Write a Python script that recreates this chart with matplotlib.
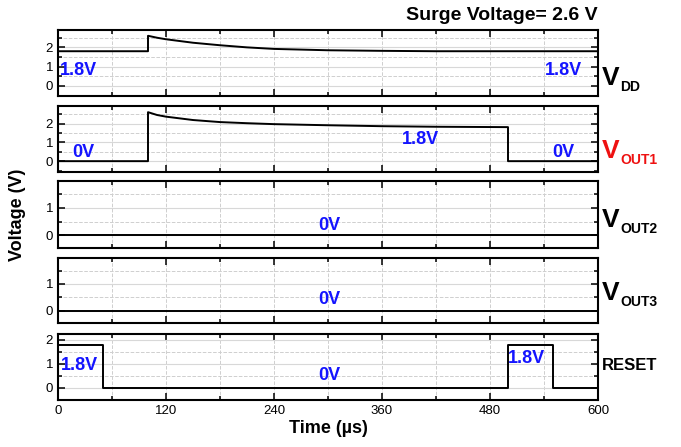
import matplotlib.pyplot as plt
from matplotlib.ticker import MultipleLocator

plt.rcParams['font.family'] = ['Liberation Sans', 'DejaVu Sans']
NARROW = ['Liberation Sans Narrow', 'Liberation Sans', 'DejaVu Sans']

# --- data ---
t_vdd = [0, 100, 100, 110, 120, 150, 180, 210, 240, 300, 360, 420, 600]
v_vdd = [1.8, 1.8, 2.6, 2.5, 2.42, 2.24, 2.11, 2.0, 1.92, 1.85, 1.82, 1.8, 1.8]

t_out1 = [0, 100, 100, 110, 120, 150, 180, 210, 240, 300, 360, 420, 500, 500, 600]
v_out1 = [0, 0, 2.62, 2.47, 2.38, 2.2, 2.09, 2.03, 1.98, 1.92, 1.87, 1.84, 1.82, 0, 0]

t_out2 = [0, 600]
v_out2 = [0, 0]

t_out3 = [0, 600]
v_out3 = [0, 0]

t_reset = [0, 50, 50, 500, 500, 550, 550, 600]
v_reset = [1.8, 1.8, 0, 0, 1.8, 1.8, 0, 0]

x_ticks = [0, 120, 240, 360, 480, 600]

# panel extents in pixels (top, bottom) and y limits
panels = [
    (t_vdd, v_vdd, (30, 96), (-0.52, 2.9), [0, 1, 2]),
    (t_out1, v_out1, (106, 172), (-0.58, 2.95), [0, 1, 2]),
    (t_out2, v_out2, (181, 248), (-0.46, 1.97), [0, 1]),
    (t_out3, v_out3, (258, 323), (-0.46, 1.97), [0, 1]),
    (t_reset, v_reset, (334, 400), (-0.5, 2.25), [0, 1, 2]),
]

# blue value labels: (panel, time, voltage, text)
notes = [
    (0, 23, 0.8, '1.8V'), (0, 562, 0.8, '1.8V'),
    (1, 28, 0.45, '0V'), (1, 403, 1.15, '1.8V'), (1, 562, 0.45, '0V'),
    (2, 301, 0.37, '0V'),
    (3, 301, 0.4, '0V'),
    (4, 24, 0.95, '1.8V'), (4, 301, 0.5, '0V'), (4, 521, 1.22, '1.8V'),
]

W, H = 681, 447
fig = plt.figure(figsize=(W / 100, H / 100), dpi=100)
axes = []
for t, v, (top, bot), ylim, yt in panels:
    ax = fig.add_axes([58 / W, 1 - bot / H, 540 / W, (bot - top) / H])
    ax.plot(t, v, color='black', lw=1.4)
    ax.set_xlim(0, 600)
    ax.set_ylim(*ylim)
    ax.set_yticks(yt)
    ax.yaxis.set_minor_locator(MultipleLocator(0.5))
    ax.set_xticks(x_ticks)
    ax.xaxis.set_minor_locator(MultipleLocator(60))
    ax.tick_params(which='both', direction='in', top=True, right=True,
                   labelsize=9.5, width=1.1)
    ax.tick_params(which='major', length=5)
    ax.tick_params(which='minor', length=3)
    ax.grid(True, which='major', axis='y', color='#d8d8d8', lw=0.8)
    ax.grid(True, which='minor', axis='y', color='#cfcfcf', lw=0.7, ls='--')
    ax.grid(True, which='both', axis='x', color='#cfcfcf', lw=0.7, ls='--')
    ax.set_axisbelow(True)
    for s in ax.spines.values():
        s.set_linewidth(1.5)
    if len(axes) < 4:
        ax.tick_params(labelbottom=False)
    axes.append(ax)

for i, x, y, s in notes:
    axes[i].text(x, y, s, color='#1414ff', fontsize=13, fontweight='bold',
                 ha='center', va='center', family=NARROW)

# right-side signal names
names = [(0, 'V', 'DD', 'black', 78), (1, 'V', 'OUT1', '#ee1111', 151),
         (2, 'V', 'OUT2', 'black', 220), (3, 'V', 'OUT3', 'black', 293)]
for i, big, sub, c, yc in names:
    fig.text(602 / W, 1 - yc / H, big, color=c, fontsize=19, fontweight='bold',
             ha='left', va='center', family=NARROW)
    fig.text(620 / W, 1 - (yc + 9) / H, sub, color=c, fontsize=10,
             fontweight='bold', ha='left', va='center', family=NARROW)
fig.text(602 / W, 1 - 366 / H, 'RESET', color='black', fontsize=12,
         fontweight='bold', ha='left', va='center', family=NARROW)

fig.text(598 / W, 1 - 16 / H, 'Surge Voltage= 2.6 V', fontsize=14,
         fontweight='bold', ha='right', va='center', family=NARROW)
fig.text(18 / W, 1 - 215 / H, 'Voltage (V)', fontsize=13, fontweight='bold',
         rotation=90, ha='center', va='center', family=NARROW)
axes[-1].set_xlabel('Time (\u00b5s)', fontsize=13, fontweight='bold',
                    family=NARROW, labelpad=2)

fig.savefig('out.png', dpi=100)
